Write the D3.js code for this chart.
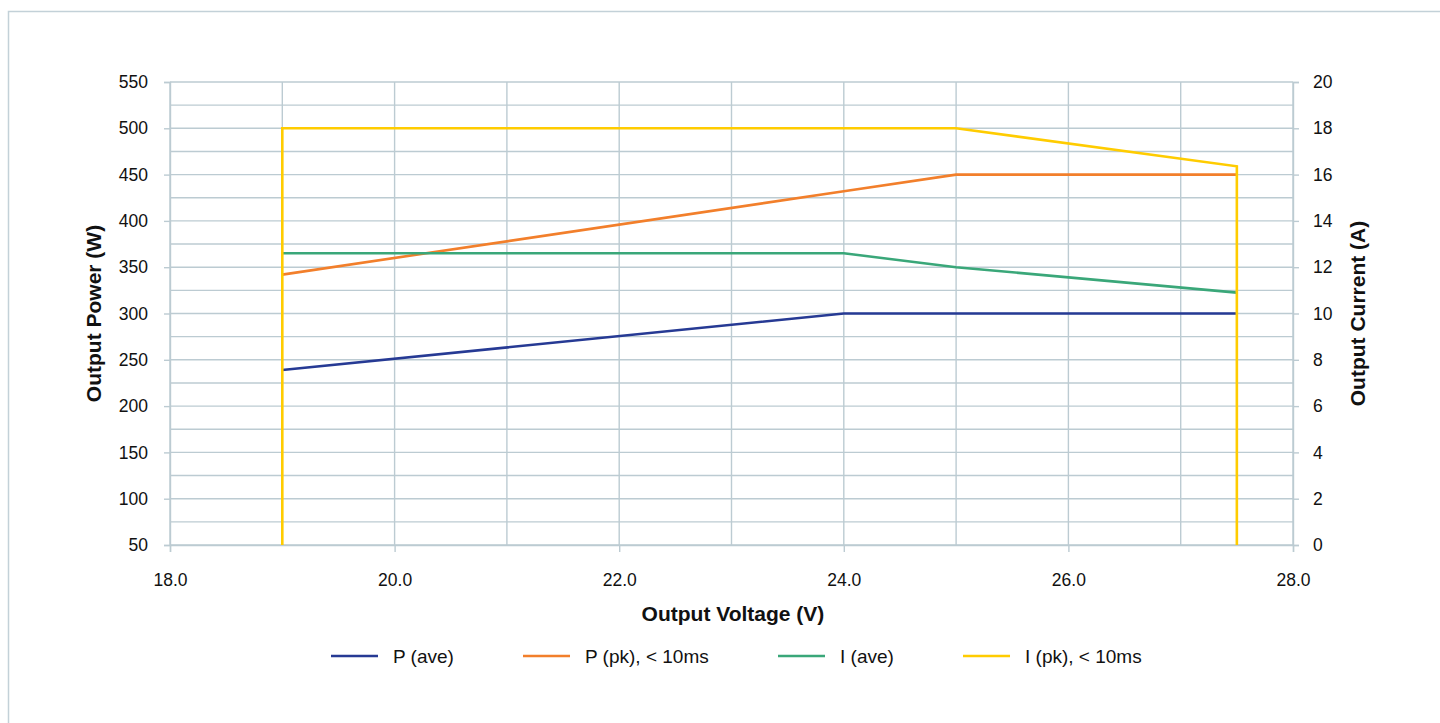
<!DOCTYPE html>
<html><head><meta charset="utf-8">
<script src="https://cdn.jsdelivr.net/npm/d3@7"></script>
<style>
html,body{margin:0;padding:0;background:#fff;}
svg{display:block;font-family:"Liberation Sans",Arial,sans-serif;}
</style></head>
<body><svg id="c" width="1440" height="723"></svg>
<script>
// Data
const voltage = [19, 24, 25, 27.5];
const pAve = [239, 300, 300, 300];            // W
const pPk  = [342, 432, 450, 450];            // W
const iAve = [12.6, 12.6, 12.0, 10.9];        // A
const iPkV = [19, 19, 25, 27.5, 27.5];
const iPk  = [0, 18, 18, 16.36, 0];           // A
const xTicks = [18, 20, 22, 24, 26, 28];
const yLeftTicks = [50,100,150,200,250,300,350,400,450,500,550];
const yRightTicks = [0,2,4,6,8,10,12,14,16,18,20];
const seriesNames = ["P (ave)", "P (pk), < 10ms", "I (ave)", "I (pk), < 10ms"];
const seriesColors = ["#263a94", "#f27f2b", "#3aa779", "#ffcc00"];

const svg = d3.select("#c");
const grid = "#bccbd2";
// outer border
svg.append("rect").attr("x",8.5).attr("y",11.5).attr("width",1440).attr("height",730)
  .attr("fill","none").attr("stroke","#c3d1d8").attr("stroke-width",1.5);

const L=170, R=1293, T=82, B=545;
const x = d3.scaleLinear().domain([18,28]).range([L,R]);
const yL = d3.scaleLinear().domain([50,550]).range([B,T]);
const yR = d3.scaleLinear().domain([0,20]).range([B,T]);

const g = svg.append("g");
// horizontal grid every 25 W
d3.range(50, 551, 25).forEach(v=>{
  g.append("line").attr("x1",L).attr("x2",R).attr("y1",yL(v)).attr("y2",yL(v))
   .attr("stroke",grid).attr("stroke-width",1.4);
});
// vertical grid every 1 V
d3.range(18, 28.01, 1).forEach(v=>{
  g.append("line").attr("x1",x(v)).attr("x2",x(v)).attr("y1",T).attr("y2",B)
   .attr("stroke",grid).attr("stroke-width",1.4);
});

// axes
const axL = d3.axisLeft(yL).tickValues(yLeftTicks).tickSize(6).tickPadding(16);
const axR = d3.axisRight(yR).tickValues(yRightTicks).tickSize(6).tickPadding(14);
const axB = d3.axisBottom(x).tickValues(xTicks).tickSize(7).tickPadding(22).tickFormat(d3.format(".1f"));
function style(sel){
  sel.select(".domain").attr("stroke",grid).attr("stroke-width",1.4);
  sel.selectAll(".tick line").attr("stroke",grid).attr("stroke-width",1.4);
  sel.selectAll(".tick text").attr("fill","#111").style("font-size","17.5px")
    .style("font-family","'Liberation Sans',Arial,sans-serif");
}
svg.append("g").attr("transform",`translate(${L},0)`).call(axL).call(style);
svg.append("g").attr("transform",`translate(${R},0)`).call(axR).call(style);
svg.append("g").attr("transform",`translate(0,${B})`).call(axB).call(style);

// series
const lineL = d3.line().x(d=>x(d[0])).y(d=>yL(d[1]));
const lineR = d3.line().x(d=>x(d[0])).y(d=>yR(d[1]));
const series = [
  {pts: d3.zip(voltage,pAve), fn: lineL},
  {pts: d3.zip(voltage,pPk), fn: lineL},
  {pts: d3.zip(voltage,iAve), fn: lineR},
  {pts: d3.zip(iPkV,iPk), fn: lineR},
];
series.forEach((s,i)=>{
  svg.append("path").attr("d", s.fn(s.pts)).attr("fill","none")
    .attr("stroke",seriesColors[i]).attr("stroke-width",2.6).attr("stroke-linejoin","miter");
});

// titles
svg.append("text").attr("transform",`translate(101,${(T+B)/2}) rotate(-90)`)
  .attr("text-anchor","middle").style("font-size","21px").style("font-weight","bold")
  .attr("fill","#111").text("Output Power (W)");
svg.append("text").attr("transform",`translate(1365,${(T+B)/2}) rotate(-90)`)
  .attr("text-anchor","middle").style("font-size","21px").style("font-weight","bold")
  .attr("fill","#111").text("Output Current (A)");
svg.append("text").attr("x",733).attr("y",621)
  .attr("text-anchor","middle").style("font-size","21px").style("font-weight","bold")
  .attr("fill","#111").text("Output Voltage (V)");

// legend
const legX = [331, 523, 778, 963];
seriesNames.forEach((n,i)=>{
  svg.append("line").attr("x1",legX[i]).attr("x2",legX[i]+47).attr("y1",656).attr("y2",656)
    .attr("stroke",seriesColors[i]).attr("stroke-width",2.6);
  svg.append("text").attr("x",legX[i]+62).attr("y",662.5).style("font-size","19px")
    .attr("fill","#111").text(n);
});
</script></body></html>
